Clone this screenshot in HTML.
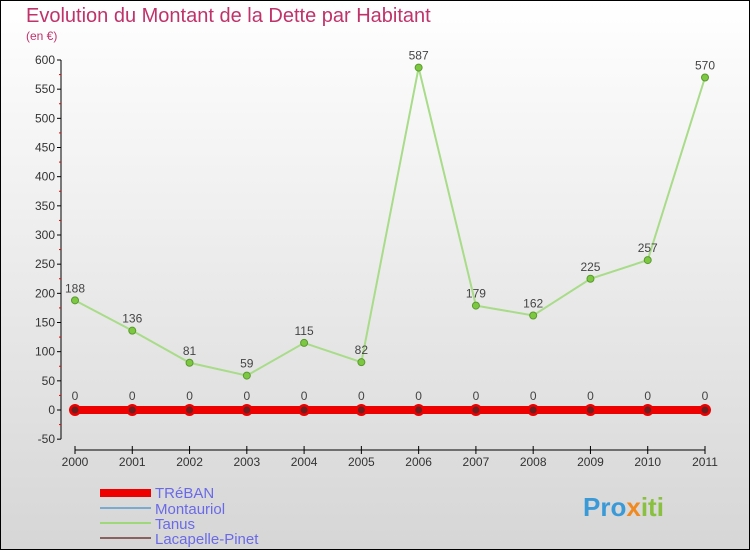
<!DOCTYPE html>
<html><head><meta charset="utf-8"><style>
body{margin:0}
svg{display:block;font-family:"Liberation Sans",sans-serif}
</style></head><body>
<svg width="750" height="550" viewBox="0 0 750 550">
<defs><linearGradient id="bg" x1="0" y1="0" x2="0" y2="1"><stop offset="0" stop-color="#ffffff"/><stop offset="1" stop-color="#d6d6d6"/></linearGradient></defs>
<rect x="0.5" y="0.5" width="749" height="549" fill="url(#bg)" stroke="#000"/>
<text x="26" y="22" font-size="20" fill="#c0326a">Evolution du Montant de la Dette par Habitant</text>
<text x="26" y="40" font-size="12" fill="#c0326a">(en €)</text>
<g id="axes"></g>
<g id="marks"></g>
<g>
<rect x="100" y="489" width="51" height="8" fill="#e00"/>
<text x="155" y="498" font-size="15" fill="#6a6ae8">TRéBAN</text>
<line x1="100" y1="508" x2="151" y2="508" stroke="#7aaad0" stroke-width="2"/>
<text x="155" y="514" font-size="15" fill="#6a6ae8">Montauriol</text>
<line x1="100" y1="523" x2="151" y2="523" stroke="#9fd87a" stroke-width="2"/>
<text x="155" y="529" font-size="15" fill="#6a6ae8">Tanus</text>
<line x1="100" y1="538" x2="151" y2="538" stroke="#8a6060" stroke-width="2"/>
<text x="155" y="544" font-size="15" fill="#6a6ae8">Lacapelle-Pinet</text>
</g>
<text x="583" y="516" font-size="26" font-weight="bold" fill="#3a9ad8">Pro<tspan fill="#f08a20">x</tspan><tspan fill="#8ac040">iti</tspan></text>
</svg>
<script>
const years=[2000,2001,2002,2003,2004,2005,2006,2007,2008,2009,2010,2011];
const tanus=[188,136,81,59,115,82,587,179,162,225,257,570];
const treban=[0,0,0,0,0,0,0,0,0,0,0,0];
const yTicks=[-50,0,50,100,150,200,250,300,350,400,450,500,550,600];
const NS="http://www.w3.org/2000/svg";
function X(i){return 75+i*(705-75)/11;}
function Y(v){return 410-v*(350/600);}
function mk(tag,attrs,parent,txt){const e=document.createElementNS(NS,tag);for(const k in attrs)e.setAttribute(k,attrs[k]);if(txt!==undefined)e.textContent=txt;parent.appendChild(e);return e;}
const ax=document.getElementById('axes'),mg=document.getElementById('marks');
let yl=mk('line',{x1:61,y1:Y(600),x2:61,y2:Y(-50),stroke:'#000'},ax);


yTicks.forEach(t=>{
 let l=mk('line',{x1:57,y1:Y(t),x2:61,y2:Y(t),stroke:'#000'},ax);
 
 
 if(t<600){let m=mk('line',{x1:59,y1:Y(t+25),x2:61,y2:Y(t+25),stroke:'#e00'},ax);
 
 }
 let s=mk('text',{x:55,y:Y(t)+4,'font-size':12,'text-anchor':'end',fill:'#333'},ax,String(t));
 
 
});
let xl=mk('line',{x1:75,y1:450,x2:705,y2:450,stroke:'#000'},ax);


years.forEach((yr,i)=>{
 let l=mk('line',{x1:X(i),y1:446,x2:X(i),y2:454,stroke:'#000'},ax);
 
 
 let s=mk('text',{x:X(i),y:466,'font-size':12,'text-anchor':'middle',fill:'#333'},ax,String(yr));
 
 
});
let tp=mk('polyline',{points:tanus.map((v,i)=>X(i)+','+Y(v)).join(' '),fill:'none',stroke:'#a8dc88','stroke-width':2},mg);


tanus.forEach((v,i)=>{
 let c=mk('circle',{cx:X(i),cy:Y(v),r:3.5,fill:'#7cc840',stroke:'#5a9a30'},mg);
 
 
 let s=mk('text',{x:X(i),y:Y(v)-8,'font-size':12,'text-anchor':'middle',fill:'#444'},mg,String(v));
 
 
});
let rp=mk('polyline',{points:treban.map((v,i)=>X(i)+','+Y(v)).join(' '),fill:'none',stroke:'#e00','stroke-width':8},mg);


treban.forEach((v,i)=>{
 let c=mk('circle',{cx:X(i),cy:Y(v),r:6,fill:'#e00'},mg);
 
 
 let d=mk('circle',{cx:X(i),cy:Y(v),r:3.5,fill:'#6a2020'},mg);
 
 
 let s=mk('text',{x:X(i),y:Y(v)-10,'font-size':12,'text-anchor':'middle',fill:'#444'},mg,String(v));
 
 
});
</script>
</body></html>
